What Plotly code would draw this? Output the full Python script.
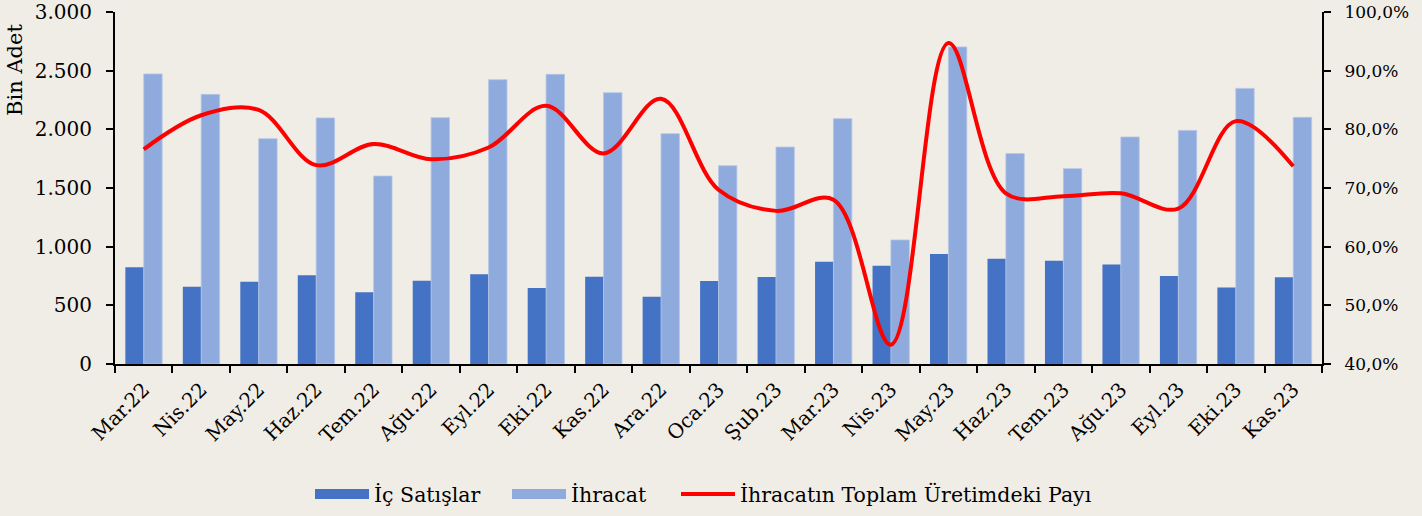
import plotly.graph_objects as go

months = ["Mar.22", "Nis.22", "May.22", "Haz.22", "Tem.22", "Ağu.22", "Eyl.22",
          "Eki.22", "Kas.22", "Ara.22", "Oca.23", "Şub.23", "Mar.23", "Nis.23",
          "May.23", "Haz.23", "Tem.23", "Ağu.23", "Eyl.23", "Eki.23", "Kas.23"]

ic_satislar = [824, 659, 701, 756, 611, 710, 764, 648, 744, 574, 707, 741, 872, 838,
               937, 898, 881, 847, 750, 653, 739]

ihracat = [2472, 2298, 1920, 2097, 1602, 2099, 2423, 2469, 2312, 1963, 1690, 1849,
           2091, 1057, 2702, 1793, 1665, 1935, 1991, 2349, 2102]

ihracat_payi = [0.766, 0.824, 0.833, 0.739, 0.775, 0.749, 0.769, 0.840, 0.759, 0.852,
                0.697, 0.661, 0.680, 0.433, 0.947, 0.691, 0.686, 0.691, 0.665, 0.814,
                0.737]

BG = "#F0EDE6"
FONT = "DejaVu Serif"
C_IC = "#4472C4"
C_IHR = "#8FAADC"
C_LINE = "#FF0000"

fig = go.Figure()
fig.add_trace(go.Bar(x=months, y=ic_satislar, name="İç Satışlar", showlegend=False,
                     marker=dict(color=C_IC, line=dict(width=0))))
fig.add_trace(go.Bar(x=months, y=ihracat, name="İhracat", showlegend=False,
                     marker=dict(color=C_IHR, line=dict(color="#B4C7E7", width=0.8))))
fig.add_trace(go.Scatter(x=months, y=ihracat_payi, name="İhracatın Toplam Üretimdeki Payı",
                         mode="lines", yaxis="y2", showlegend=False,
                         line=dict(color=C_LINE, width=4, shape="spline", smoothing=1)))

# legend-only entries (wide swatches like the original)
fig.add_trace(go.Scatter(x=[None], y=[None], mode="lines", name="İç Satışlar",
                         legend="legend", line=dict(color=C_IC, width=13)))
fig.add_trace(go.Scatter(x=[None], y=[None], mode="lines", name="İhracat",
                         legend="legend2", line=dict(color=C_IHR, width=13)))
fig.add_trace(go.Scatter(x=[None], y=[None], mode="lines", yaxis="y2",
                         legend="legend3", name="İhracatın Toplam Üretimdeki Payı",
                         line=dict(color=C_LINE, width=4)))

def leg(xpx):
    return dict(orientation="h", x=(xpx - 115) / 1207, xanchor="left", y=-0.37,
                yanchor="middle", font=dict(family=FONT, size=20.5),
                bgcolor="rgba(0,0,0,0)", itemwidth=54)

fig.update_layout(
    width=1422, height=516,
    paper_bgcolor=BG, plot_bgcolor=BG,
    margin=dict(l=115, r=100, t=12, b=152, autoexpand=False),
    separators=",.",
    barmode="group", bargap=0.36, bargroupgap=0,
    font=dict(family=FONT, size=19, color="#000000"),
    showlegend=True,
    legend=leg(310), legend2=leg(507), legend3=leg(676),
    xaxis=dict(type="category", tickangle=-45, showgrid=False, showline=True,
               linecolor="#000000", linewidth=2, ticks="outside", ticklen=7,
               tickwidth=1.5, tickcolor="#000000", tickson="boundaries",
               tickfont=dict(family=FONT, size=20), automargin=False,
               ticklabelstandoff=4),
    yaxis=dict(range=[0, 3000], dtick=500, tickformat=",.0f", showgrid=False,
               zeroline=False, showline=True, linecolor="#000000", linewidth=2,
               ticks="outside", ticklen=7, tickwidth=1.5, tickcolor="#000000",
               tickfont=dict(family=FONT, size=20), ticklabelstandoff=10,
               automargin=False),
    yaxis2=dict(range=[0.4, 1.0], dtick=0.1, tickformat=".1%", overlaying="y",
                side="right", showgrid=False, zeroline=False, showline=True,
                linecolor="#000000", linewidth=2, ticks="outside", ticklen=7,
                tickwidth=1.5, tickcolor="#000000",
                tickfont=dict(family=FONT, size=17), ticklabelstandoff=10,
                automargin=False),
    annotations=[dict(text="Bin Adet", xref="paper", yref="paper", x=-0.083, y=0.835,
                      xanchor="center", yanchor="middle", textangle=-90,
                      showarrow=False, font=dict(family=FONT, size=21))],
)

fig.write_html("out.html", config={"displayModeBar": False},
               post_script="document.body.style.margin='0';document.body.style.background='" + BG + "';")
